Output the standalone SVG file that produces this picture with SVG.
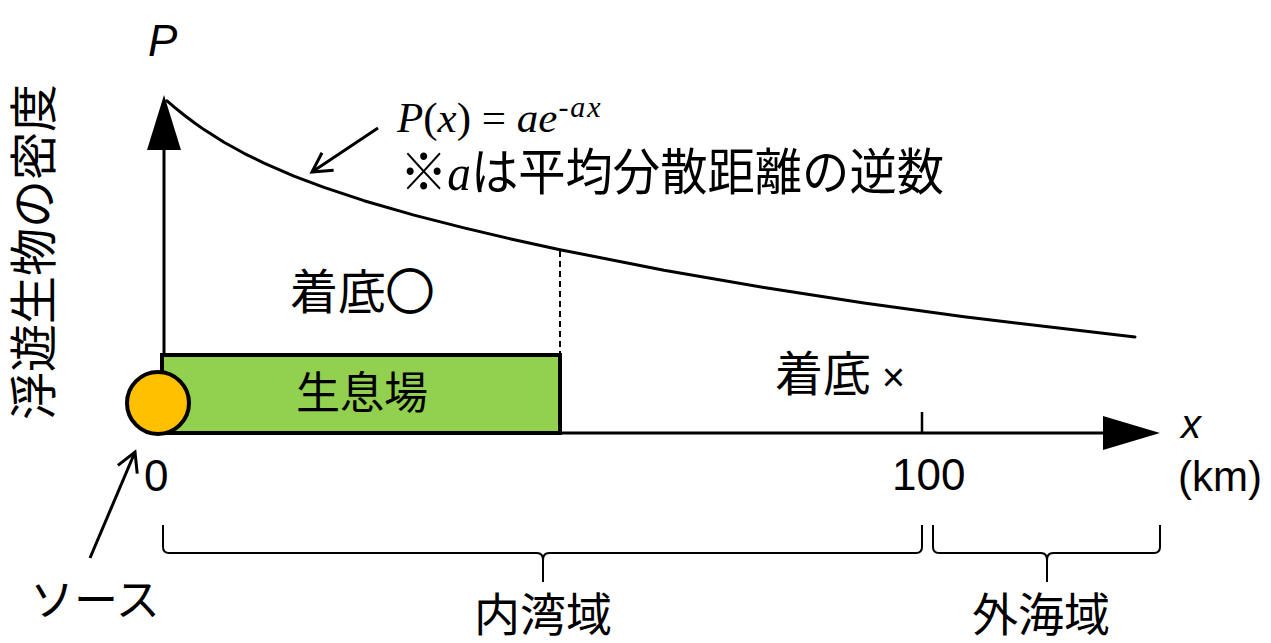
<svg xmlns="http://www.w3.org/2000/svg" width="1271" height="643" viewBox="0 0 1271 643">
<style>
.cjk{font-family:"Noto Sans CJK JP","Noto Sans CJK SC",sans-serif;fill:#000}
.lat{font-family:"Liberation Sans",Arial,sans-serif;fill:#000}
.ser{font-family:"Liberation Serif","Times New Roman",serif;fill:#000}
.ln{stroke:#000;fill:none}
.br{stroke:#000;stroke-width:2;fill:none}
</style>
<defs>
<marker id="vee" markerUnits="userSpaceOnUse" markerWidth="26" markerHeight="26" refX="22" refY="12" orient="auto" viewBox="0 0 26 24">
<path d="M3,1.5 L22,12 L3,22.5" fill="none" stroke="#000" stroke-width="3" stroke-linejoin="miter"/>
</marker>
</defs>
<rect width="1271" height="643" fill="#fff"/>

<g id="axes">
<line class="ln" x1="164" y1="433" x2="164" y2="140" stroke-width="3"/>
<polygon points="164,95 147,150 181,150" fill="#000"/>
<line class="ln" x1="164" y1="433" x2="1110" y2="433" stroke-width="3"/>
<polygon points="1160,433 1103,416 1103,450" fill="#000"/>
<line class="ln" x1="922" y1="412" x2="922" y2="433" stroke-width="2.5"/>
<text class="lat" x="148" y="56" font-size="44" font-style="italic">P</text>
<text class="lat" x="1181" y="438" font-size="40" font-style="italic">x</text>
<text class="lat" x="1178" y="491" font-size="42">(km)</text>
<text class="lat" x="892" y="490" font-size="44">100</text>
<text class="lat" x="144" y="491" font-size="44">0</text>
<text class="cjk" transform="translate(51,252) rotate(-90)" font-size="48" text-anchor="middle">浮遊生物の密度</text>
</g>

<g id="curve">
<polyline class="ln" stroke-width="3" stroke-linejoin="round" stroke-linecap="round" points="167,100.8 174,106.9 184,115 194,122.5 204,129.6 224,142.2 244,153.3 264,163.1 294,176.1 324,187.4 364,200.7 414,215.1 464,227.9 512,239.2 560,249.7 664,270.2 764,287.5 864,302.9 964,316.7 1050,327 1135,336.9"/>
</g>

<g id="formula">
<text class="ser" x="397" y="132" font-size="43"><tspan font-style="italic">P</tspan>(<tspan font-style="italic">x</tspan>) = <tspan font-style="italic">ae</tspan><tspan font-style="italic" font-size="30" dx="1" dy="-15" letter-spacing="2">-ax</tspan></text>
<text class="cjk" x="400" y="190" font-size="50" textLength="544" lengthAdjust="spacingAndGlyphs">※<tspan class="ser" font-style="italic">a</tspan>は平均分散距離の逆数</text>
</g>

<g id="habitat">
<rect x="162" y="355" width="398" height="78" fill="#92D050" stroke="#000" stroke-width="4"/>
<text class="cjk" x="362" y="409" font-size="44" text-anchor="middle">生息場</text>
</g>

<g id="source">
<circle cx="158" cy="403" r="31" fill="#FFC000" stroke="#000" stroke-width="4"/>
<text class="cjk" x="30" y="616" font-size="44">ソース</text>
</g>

<g id="settle-ok">
<text class="cjk" x="290" y="309" font-size="48">着底<tspan stroke="#000" stroke-width="1.8">○</tspan></text>
</g>
<g id="settle-ng">
<text class="cjk" x="775" y="391" font-size="48">着底 <tspan class="lat" font-size="40">×</tspan></text>
</g>

<g id="inner-bay">
<path class="br" d="M163,525 L163,547 Q163,553 169,553 L537,553 Q543,553 543,560 L543,582 M543,560 Q543,553 549,553 L916,553 Q922,553 922,547 L922,525"/>
<text class="cjk" x="543" y="631" font-size="46" text-anchor="middle">内湾域</text>
</g>

<g id="offshore">
<path class="br" d="M933,525 L933,547 Q933,553 939,553 L1041,553 Q1047,553 1047,560 L1047,582 M1047,560 Q1047,553 1053,553 L1154,553 Q1160,553 1160,547 L1160,525"/>
<text class="cjk" x="1041" y="631" font-size="46" text-anchor="middle">外海域</text>
</g>

<g id="connectors">
<line class="ln" x1="560" y1="251" x2="560" y2="353" stroke-width="2" stroke-dasharray="6,4"/>
<line class="ln" x1="378" y1="128" x2="312" y2="172" stroke-width="3" marker-end="url(#vee)"/>
<line class="ln" x1="90" y1="558" x2="135" y2="452" stroke-width="3" marker-end="url(#vee)"/>
</g>
</svg>
